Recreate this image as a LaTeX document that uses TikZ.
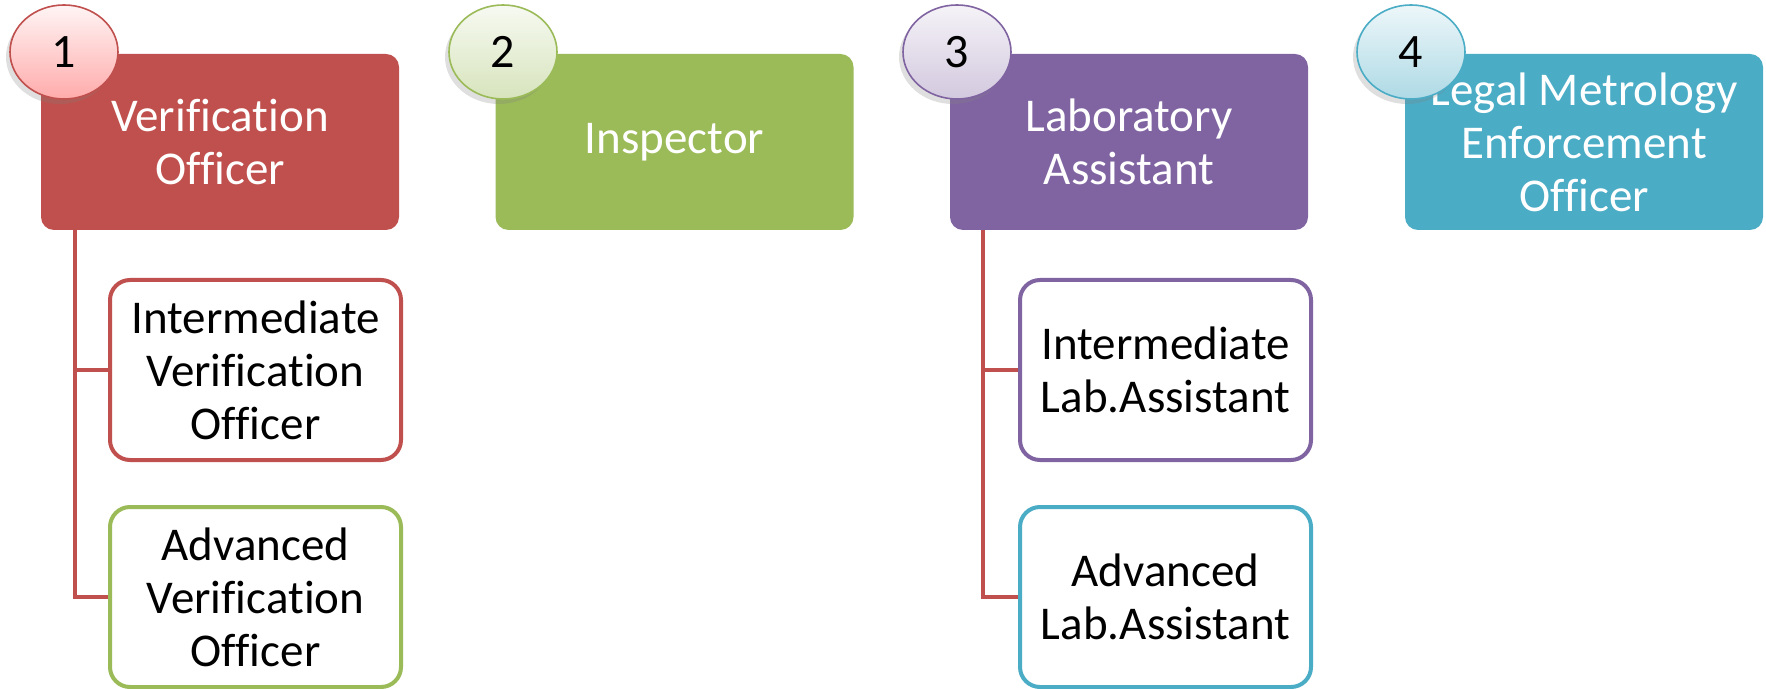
\documentclass[tikz,border=0pt]{standalone}
\usepackage{fontspec}
\setmainfont[Ligatures=NoCommon]{Carlito}
\usetikzlibrary{shadows,shapes.geometric}

\definecolor{vored}{HTML}{C0504D}
\definecolor{insgreen}{HTML}{9BBB59}
\definecolor{labpurple}{HTML}{8064A2}
\definecolor{lmteal}{HTML}{4BACC6}

\tikzset{
  topbox/.style={rectangle, rounded corners=6.5pt, fill=#1, text=white,
    minimum width=179pt, minimum height=88pt, inner sep=0pt, align=center,
    font=\fontsize{23.5}{26.5}\selectfont},
  subbox/.style={rectangle, rounded corners=10pt, draw=#1, line width=2pt,
    fill=white, minimum width=145.5pt, minimum height=90pt, inner sep=0pt,
    align=center, font=\fontsize{23.5}{26.5}\selectfont},
  badge/.style={ellipse, draw=#1, line width=0.8pt, minimum width=54pt,
    minimum height=47pt, inner sep=0pt, font=\fontsize{24}{26}\selectfont,
    drop shadow={opacity=0.25, shadow xshift=-2pt, shadow yshift=-2.5pt}},
  link/.style={draw=vored, line width=2pt}
}

\begin{document}
\begin{tikzpicture}[x=0.5pt, y=-0.5pt]

    \useasboundingbox (0,0) rectangle (1766,689);

    % top row
    \node[topbox=vored] (vo) at (220,142) {Verification\\Officer};
    \node[topbox=insgreen] (ins) at (674.5,142) {Inspector};
    \node[topbox=labpurple] (la) at (1129,142) {Laboratory\\Assistant};
    \node[topbox=lmteal] (lmeo) at (1584,142) {Legal Metrology\\Enforcement\\Officer};

    % number badges
    \node[badge=vored, top color=red!4, bottom color=red!33] (b1) at (64,52) {1};
    \node[badge=insgreen, top color=insgreen!8, bottom color=insgreen!40] (b2) at (503,52) {2};
    \node[badge=labpurple, top color=labpurple!8, bottom color=labpurple!35] (b3) at (957,52) {3};
    \node[badge=lmteal, top color=lmteal!10, bottom color=lmteal!45] (b4) at (1411,52) {4};

    % sub levels
    \node[subbox=vored] (ivo) at (255.5,370) {Intermediate\\Verification\\Officer};
    \node[subbox=insgreen] (avo) at (255.5,597) {Advanced\\Verification\\Officer};
    \node[subbox=labpurple] (ila) at (1165.5,370) {Intermediate\\Lab.Assistant};
    \node[subbox=lmteal] (ala) at (1165.5,597) {Advanced\\Lab.Assistant};

    \draw[link] ([xshift=17pt]vo.south west) |- (ivo.west);
    \draw[link] ([xshift=17pt]vo.south west) |- (avo.west);
    \draw[link] ([xshift=16.5pt]la.south west) |- (ila.west);
    \draw[link] ([xshift=16.5pt]la.south west) |- (ala.west);

\end{tikzpicture}
\end{document}
